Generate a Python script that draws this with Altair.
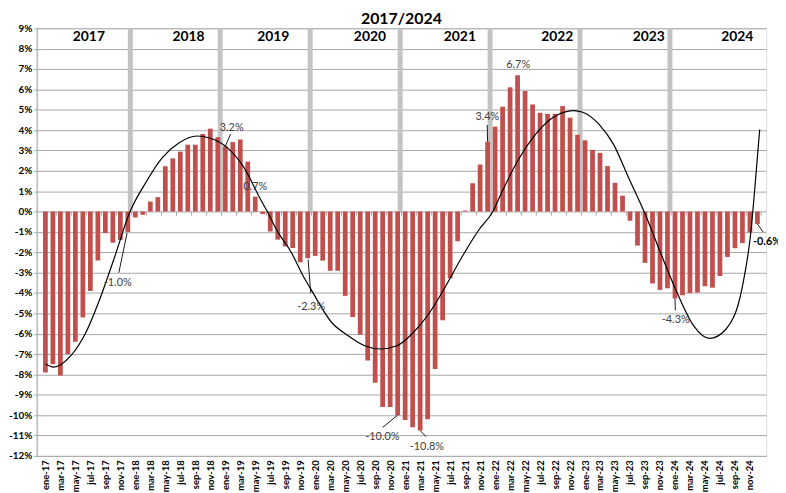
import altair as alt
import pandas as pd

MONTHS = ["ene", "feb", "mar", "abr", "may", "jun", "jul", "ago", "sep", "oct", "nov", "dic"]
YEARS = [2017, 2018, 2019, 2020, 2021, 2022, 2023, 2024]

v2017 = [-7.9, -7.5, -8.05, -7.0, -6.4, -5.2, -3.9, -2.4, -1.06, -1.53, -1.4, -1.0]
v2018 = [-0.29, -0.16, 0.49, 0.71, 2.22, 2.61, 2.94, 3.28, 3.28, 3.81, 4.07, 3.65]
v2019 = [3.2, 3.41, 3.54, 2.45, 0.73, -0.12, -0.98, -1.38, -1.71, -1.79, -2.49, -2.29]
v2020 = [-2.18, -2.41, -2.91, -2.91, -4.14, -5.18, -6.04, -7.31, -8.41, -9.6, -9.6, -10.0]
v2021 = [-10.24, -10.6, -10.76, -10.2, -7.73, -5.34, -3.28, -1.46, 0.05, 1.39, 2.31, 3.43]
v2022 = [4.17, 5.15, 6.1, 6.7, 5.92, 5.26, 4.85, 4.8, 4.8, 5.18, 4.61, 3.77]
v2023 = [3.5, 3.03, 2.88, 2.23, 1.41, 0.78, -0.45, -1.67, -2.52, -3.53, -3.85, -3.77]
v2024 = [-4.27, -4.11, -4.01, -3.98, -3.67, -3.74, -3.17, -2.23, -1.8, -1.55, -1.02, -0.61]

# trend curve (month position, value %)
trend_x = [0, 1.1, 3.4, 5.4, 7.4, 9.1, 11.3, 13.4, 15.6, 17.8, 20.2, 22.1, 24.3, 26.5,
           28.7, 29.6, 31.0, 32.8, 34.3, 35.4, 38.2, 40.4, 42.6, 44.7, 46.9, 49.1,
           51.25, 53.4, 55.6, 57.8, 59.7, 60.8, 63.0, 65.2, 67.3, 69.5, 70.5, 71.7,
           73.9, 75.8, 77.8, 80.0, 82.1, 84.3, 86.5, 88.6, 90.8, 93.0, 94.1, 94.7, 95.3]
trend_y = [-7.48, -7.64, -7.08, -5.94, -4.16, -2.38, 0.0, 1.43, 2.65, 3.37, 3.71, 3.59,
           3.13, 2.16, 0.6, 0.0, -1.0, -2.0, -3.1, -3.8, -5.45, -6.1, -6.59, -6.75,
           -6.59, -5.94, -4.97, -3.67, -2.22, -0.92, 0.0, 0.87, 2.48, 3.7, 4.51, 4.91,
           4.96, 4.88, 4.27, 3.3, 1.67, -0.11, -2.05, -4.0, -5.62, -6.23, -5.78, -3.67,
           -1.08, 1.35, 4.03]

# annotations
ann_text = ["-1.0%", "3.2%", "0.7%", "-2.3%", "-10.0%", "-10.8%", "3.4%", "6.7%", "-4.3%"]
ann_x = [9.65, 24.85, 28.0, 35.46, 44.96, 50.9, 58.97, 63.08, 84.1]
ann_y = [-3.51, 4.1, 1.22, -4.7, -11.08, -11.57, 4.64, 7.21, -5.33]
lead_x1 = [10.9, 24.0, 35.05, 47.0, 50.0, 59.0, 84.0, 95.0]
lead_y1 = [-1.05, 3.2, -2.35, -10.0, -10.76, 3.43, -4.27, -0.61]
lead_x2 = [9.8, 24.7, 35.4, 45.0, 50.8, 58.95, 84.05, 95.75]
lead_y2 = [-3.0, 3.8, -4.0, -10.6, -11.06, 4.25, -4.85, -1.0]
last_text = ["-0.6%"]
last_x = [94.4]
last_y = [-1.49]

year_pos = [5.8, 19.1, 30.4, 43.3, 55.3, 68.3, 80.5, 92.3]
year_y = 8.55
SEP_TOP = 9

values = v2017 + v2018 + v2019 + v2020 + v2021 + v2022 + v2023 + v2024
labels = [f"{m}-{str(y)[2:]}" for y in YEARS for m in MONTHS]
n = len(values)

df = pd.DataFrame({"i": list(range(n)), "v": values, "lab": labels})
sep_df = pd.DataFrame({"i": [12 * k + 11 for k in range(len(YEARS) - 1)]})
sep_df["top"] = SEP_TOP
sep_df["base"] = 0
tick_df = pd.DataFrame({"p": [k + 0.5 for k in range(1, n, 2)]})
trend_df = pd.DataFrame({"x": trend_x, "y": trend_y})
ann_df = pd.DataFrame({"x": ann_x, "y": ann_y, "t": ann_text})
lead_df = pd.DataFrame({"x1": lead_x1, "y1": lead_y1, "x2": lead_x2, "y2": lead_y2})
last_df = pd.DataFrame({"x": last_x, "y": last_y, "t": last_text})
year_df = pd.DataFrame({"x": year_pos, "y": [year_y] * len(YEARS), "t": [str(y) for y in YEARS]})

FONT = "Lato"
label_js = "[" + ",".join(f"'{l}'" for l in labels) + "]"

xscale = alt.Scale(domain=[-0.5, n - 0.5], nice=False, zero=False)
yscale = alt.Scale(domain=[-12, 9], nice=False, zero=False)

xaxis = alt.Axis(
    values=list(range(0, n, 2)),
    labelExpr=f"{label_js}[datum.value]",
    labelAngle=-90, labelFont=FONT, labelFontSize=9.5, labelFontWeight="bold",
    labelColor="black", ticks=False, domain=False, grid=False, title=None,
    labelPadding=4, labelOverlap=False, labelFlush=False, labelBound=False,
    labelAlign="right", labelBaseline="middle",
)
yaxis = alt.Axis(
    values=list(range(-12, 10)),
    labelExpr="datum.value + '%'",
    labelFont=FONT, labelFontSize=10, labelFontWeight="bold", labelColor="black",
    grid=True, gridColor="#a6a6a6", gridWidth=1, domain=True, domainColor="#a6a6a6",
    tickSize=3, tickColor="#a6a6a6", title=None, labelPadding=2,
    labelOverlap=False, labelFlush=False, labelBound=False,
)


def X(field):
    return alt.X(field, scale=xscale, axis=xaxis)


def Y(field):
    return alt.Y(field, scale=yscale, axis=yaxis)


sep = alt.Chart(sep_df).mark_bar(color="#c3c3c3", width=5, xOffset=2.5).encode(
    x=X("i:Q"), y=Y("top:Q"), y2="base:Q",
)

bars = alt.Chart(df).mark_bar(color="#c0504d", width=4.8).encode(
    x=X("i:Q"), y=Y("v:Q"), y2=alt.datum(0),
)

ticks = alt.Chart(tick_df).mark_rule(color="#a6a6a6", strokeWidth=1).encode(
    x=X("p:Q"), y=alt.Y(datum=0, scale=yscale, axis=yaxis), y2=alt.datum(-0.2),
)

trend = alt.Chart(trend_df).mark_line(color="black", strokeWidth=1.2, interpolate="monotone").encode(
    x=X("x:Q"), y=Y("y:Q"),
)

leaders = alt.Chart(lead_df).mark_rule(color="black", strokeWidth=0.9).encode(
    x=X("x1:Q"), y=Y("y1:Q"), x2="x2:Q", y2="y2:Q",
)

ann = alt.Chart(ann_df).mark_text(font=FONT, fontSize=11, color="#404040", baseline="middle").encode(
    x=X("x:Q"), y=Y("y:Q"), text="t:N",
)

last = alt.Chart(last_df).mark_text(font=FONT, fontSize=11, fontWeight="bold", color="black",
                                    align="left", baseline="middle").encode(
    x=X("x:Q"), y=Y("y:Q"), text="t:N",
)

years = alt.Chart(year_df).mark_text(font=FONT, fontSize=14, fontWeight="bold", color="black",
                                     baseline="middle").encode(
    x=X("x:Q"), y=Y("y:Q"), text="t:N",
)

chart = alt.layer(sep, bars, ticks, trend, leaders, ann, last, years).properties(
    width=737,
    height=432,
    title=alt.TitleParams("2017/2024", font=FONT, fontSize=16, fontWeight="bold",
                          color="black", anchor="middle", offset=0, dy=4),
    autosize=alt.AutoSizeParams(type="none"),
    padding={"left": 29, "top": 18, "right": 12, "bottom": 35},
).configure_view(stroke=None).configure(background="white")

chart.save("out.html", embed_options={"renderer": "svg", "actions": False})
